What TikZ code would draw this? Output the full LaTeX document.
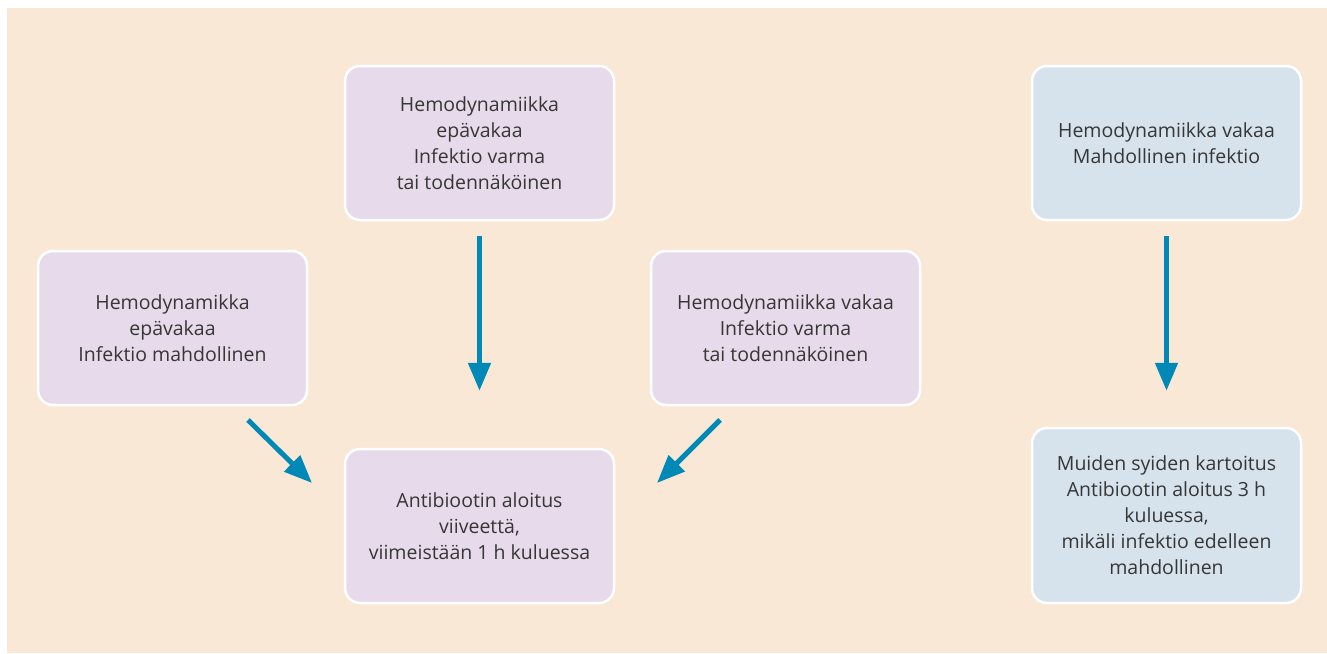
\documentclass[tikz,border=0pt]{standalone}
\usepackage{fontspec}
\setmainfont{Open Sans}
\usetikzlibrary{arrows.meta}
\definecolor{bgbeige}{HTML}{F9E8D5}
\definecolor{boxpurple}{HTML}{E7DAEA}
\definecolor{boxblue}{HTML}{D6E3ED}
\definecolor{arrowblue}{HTML}{0089B6}
\definecolor{txtgray}{HTML}{363636}
\begin{document}
\begin{tikzpicture}[x=1pt,y=-1pt,
  box/.style={draw=white,line width=2.5pt,rounded corners=15pt,minimum width=269pt,minimum height=154pt,
    align=center,text=txtgray,font=\fontsize{19.5}{26}\selectfont,inner sep=0pt},
  pbox/.style={box,fill=boxpurple},
  bbox/.style={box,fill=boxblue},
  arr/.style={draw=arrowblue,line width=5pt,-{Triangle[length=28pt,width=22pt]}}]
\useasboundingbox (0,0) rectangle (1327,653);
\fill[white] (0,0) rectangle (1327,653);
\fill[bgbeige] (7,8) rectangle (1327,653);
\node[pbox] (tm) at (479.5,143) {Hemodynamiikka\\epävakaa\\Infektio varma\\tai todennäköinen};
\node[pbox] (lm) at (172.5,328) {Hemodynamikka\\epävakaa\\Infektio mahdollinen};
\node[pbox] (rm) at (785.5,328) {Hemodynamiikka vakaa\\Infektio varma\\tai todennäköinen};
\node[pbox] (bm) at (479.5,526) {Antibiootin aloitus\\viiveettä,\\viimeistään 1 h kuluessa};
\node[bbox] (tr) at (1166.5,143) {Hemodynamiikka vakaa\\Mahdollinen infektio};
\node[bbox,minimum height=175pt] (br) at (1166.5,515.5) {Muiden syiden kartoitus\\Antibiootin aloitus 3 h\\kuluessa,\\mikäli infektio edelleen\\mahdollinen};
\coordinate (ls) at (248,420);
\coordinate (le) at (312,483);
\coordinate (rs) at (720,420);
\coordinate (re) at (657,483);
\draw[arr,shorten <=15pt,shorten >=57pt] (tm.south) -- (bm.north);
\draw[arr,shorten <=15pt,shorten >=36pt] (tr.south) -- (br.north);
\draw[arr] (ls) -- (le);
\draw[arr] (rs) -- (re);
\end{tikzpicture}
\end{document}
